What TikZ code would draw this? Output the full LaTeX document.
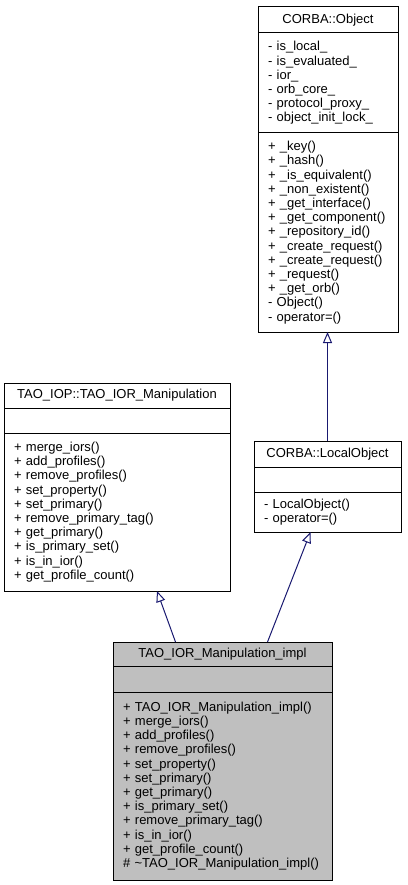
\documentclass[tikz,border=0pt]{standalone}
\usepackage{fontspec}
\setmainfont{Liberation Sans}
\usetikzlibrary{positioning,arrows.meta}
\definecolor{midnight}{HTML}{191970}
\definecolor{implgray}{HTML}{BFBFBF}
\begin{document}
\begin{tikzpicture}[
                    x=1pt,
                    y=-1pt,
                    every node/.append style={font=\fontsize{13pt}{14.2pt}\selectfont},
                    classtitle/.style={draw, line width=1pt, outer sep=0pt, inner sep=0pt, anchor=north, align=center},
                    classpart/.style={draw, line width=1pt, outer sep=0pt, inner ysep=0pt, inner xsep=10pt, anchor=north, align=left},
                    inherit/.style={draw=midnight, line width=1pt, -{Triangle[open, length=11pt, width=9pt]}}
                ]
                \useasboundingbox (0,0) rectangle (407,885);

                % CORBA::Object
                \node (objtitle) [classtitle, minimum width=140pt, minimum height=26pt] at (328,7) {CORBA::Object};
                \node (objattr) [classpart, text width=120pt, minimum height=100pt, below=0pt of objtitle]
                    {- is\_local\_\\- is\_evaluated\_\\- ior\_\\- orb\_core\_\\- protocol\_proxy\_\\- object\_init\_lock\_};
                \node (objmeth) [classpart, text width=120pt, minimum height=199pt, below=0pt of objattr]
                    {+ \_key()\\+ \_hash()\\+ \_is\_equivalent()\\+ \_non\_existent()\\+ \_get\_interface()\\+ \_get\_component()\\+ \_repository\_id()\\+ \_create\_request()\\+ \_create\_request()\\+ \_request()\\+ \_get\_orb()\\- Object()\\- operator=()};

                % CORBA::LocalObject
                \node (localtitle) [classtitle, minimum width=147pt, minimum height=26pt] at (327.5,441) {CORBA::LocalObject};
                \node (localattr) [classpart, text width=127pt, minimum height=25pt, below=0pt of localtitle] {};
                \node (localmeth) [classpart, text width=127pt, minimum height=40pt, below=0pt of localattr]
                    {- LocalObject()\\- operator=()};

                % TAO_IOP::TAO_IOR_Manipulation
                \node (maniptitle) [classtitle, minimum width=226pt, minimum height=25pt] at (117,383) {TAO\_IOP::TAO\_IOR\_Manipulation};
                \node (manipattr) [classpart, text width=206pt, minimum height=25pt, below=0pt of maniptitle] {};
                \node (manipmeth) [classpart, text width=206pt, minimum height=158pt, below=0pt of manipattr]
                    {+ merge\_iors()\\+ add\_profiles()\\+ remove\_profiles()\\+ set\_property()\\+ set\_primary()\\+ remove\_primary\_tag()\\+ get\_primary()\\+ is\_primary\_set()\\+ is\_in\_ior()\\+ get\_profile\_count()};

                % TAO_IOR_Manipulation_impl
                \node (impltitle) [classtitle, fill=implgray, minimum width=219pt, minimum height=24pt] at (222.5,642) {TAO\_IOR\_Manipulation\_impl};
                \node (implattr) [classpart, fill=implgray, text width=199pt, minimum height=26pt, below=0pt of impltitle] {};
                \node (implmeth) [classpart, fill=implgray, text width=199pt, minimum height=188pt, below=0pt of implattr]
                    {+ TAO\_IOR\_Manipulation\_impl()\\+ merge\_iors()\\+ add\_profiles()\\+ remove\_profiles()\\+ set\_property()\\+ set\_primary()\\+ get\_primary()\\+ is\_primary\_set()\\+ remove\_primary\_tag()\\+ is\_in\_ior()\\+ get\_profile\_count()\\\# \textasciitilde TAO\_IOR\_Manipulation\_impl()};

                \path
                (localtitle.north) edge [inherit] (localtitle.north |- objmeth.south)
                ([xshift=-47pt]impltitle.north) edge [inherit] ([xshift=40pt]manipmeth.south)
                ([xshift=45pt]impltitle.north) edge [inherit] ([xshift=-17pt]localmeth.south)
                ;
            \end{tikzpicture}
\end{document}
